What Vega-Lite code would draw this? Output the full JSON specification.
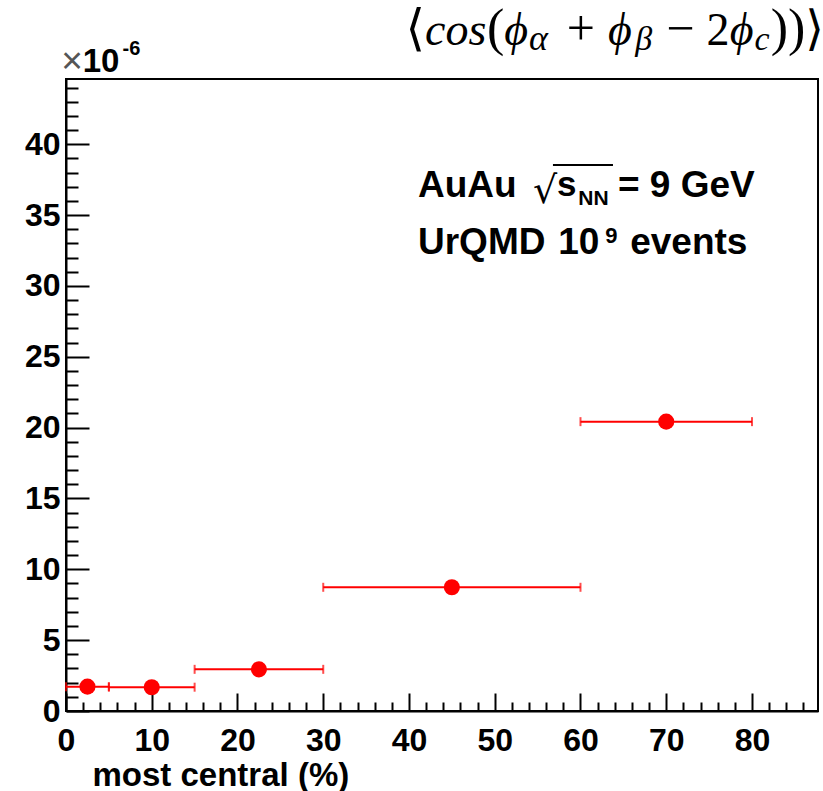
{
  "$schema": "https://vega.github.io/schema/vega-lite/v6.json",
  "width": 752,
  "height": 632,
  "autosize": "none",
  "padding": {"left": 66, "top": 79, "right": 5, "bottom": 80},
  "background": "white",
  "config": {
    "view": {"stroke": "black", "strokeWidth": 2},
    "axis": {"grid": false},
    "text": {"align": "left", "baseline": "alphabetic", "color": "black"}
  },
  "data": {
    "values": [
      {"centrality": 2.5, "lo": 0, "hi": 5, "value": 1.72},
      {"centrality": 10, "lo": 5, "hi": 15, "value": 1.68},
      {"centrality": 22.5, "lo": 15, "hi": 30, "value": 2.94},
      {"centrality": 45, "lo": 30, "hi": 60, "value": 8.73},
      {"centrality": 70, "lo": 60, "hi": 80, "value": 20.42}
    ]
  },
  "layer": [
    {
      "mark": {"type": "rule", "color": "#ff0000", "strokeWidth": 2},
      "encoding": {
        "x": {
          "field": "lo", "type": "quantitative",
          "scale": {"domain": [0, 87.7], "nice": false, "zero": false},
          "axis": {
            "values": [0,2,4,6,8,10,12,14,16,18,20,22,24,26,28,30,32,34,36,38,40,42,44,46,48,50,52,54,56,58,60,62,64,66,68,70,72,74,76,78,80,82,84,86],
            "tickCount": 200,
            "format": "d",
            "title": "most central (%)",
            "titleFont": "Liberation Sans", "titleFontSize": 33, "titleFontWeight": "bold", "titleColor": "black",
            "titleAnchor": "start", "titleAlign": "left", "titleX": 26, "titleY": 74, "titleBaseline": "alphabetic",
            "labelExpr": "datum.value % 10 === 0 ? datum.label : ''",
            "labelFont": "Liberation Sans", "labelFontSize": 32, "labelFontWeight": "bold", "labelColor": "black",
            "labelPadding": 32, "labelFlush": false, "labelOverlap": false, "labelBound": false,
            "tickSize": {"condition": {"test": "datum.value % 10 === 0", "value": -18}, "value": -9},
            "tickColor": "black", "tickWidth": 2,
            "domainColor": "black", "domainWidth": 2
          }
        },
        "x2": {"field": "hi"},
        "y": {
          "field": "value", "type": "quantitative",
          "scale": {"domain": [0, 44.6], "nice": false, "zero": false},
          "axis": {
            "values": [0,1,2,3,4,5,6,7,8,9,10,11,12,13,14,15,16,17,18,19,20,21,22,23,24,25,26,27,28,29,30,31,32,33,34,35,36,37,38,39,40,41,42,43,44],
            "tickCount": 200,
            "format": "d",
            "title": null,
            "labelExpr": "datum.value % 5 === 0 ? datum.label : ''",
            "labelFont": "Liberation Sans", "labelFontSize": 32, "labelFontWeight": "bold", "labelColor": "black",
            "labelPadding": 29, "labelOverlap": false, "labelBound": false, "labelFlush": false,
            "tickSize": {"condition": {"test": "datum.value % 5 === 0", "value": -23}, "value": -12},
            "tickColor": "black", "tickWidth": 2,
            "domainColor": "black", "domainWidth": 2
          }
        }
      }
    },
    {
      "mark": {"type": "tick", "orient": "vertical", "color": "#ff0000", "size": 9, "thickness": 2},
      "encoding": {
        "x": {"field": "lo", "type": "quantitative"},
        "y": {"field": "value", "type": "quantitative"}
      }
    },
    {
      "mark": {"type": "tick", "orient": "vertical", "color": "#ff0000", "size": 9, "thickness": 2},
      "encoding": {
        "x": {"field": "hi", "type": "quantitative"},
        "y": {"field": "value", "type": "quantitative"}
      }
    },
    {
      "mark": {"type": "point", "filled": true, "shape": "circle", "color": "#ff0000", "size": 260, "opacity": 1},
      "encoding": {
        "x": {"field": "centrality", "type": "quantitative"},
        "y": {"field": "value", "type": "quantitative"}
      }
    },
    {
      "data": {"values": [{}]},
      "mark": {"type": "text", "text": "⟨", "font": "DejaVu Serif", "fontSize": 50},
      "encoding": {"x": {"datum": 39.6, "type": "quantitative"}, "y": {"datum": 47.0, "type": "quantitative"}}
    },
    {
      "data": {"values": [{}]},
      "mark": {"type": "text", "text": "cos", "font": "Liberation Serif", "fontStyle": "italic", "fontSize": 46},
      "encoding": {"x": {"datum": 41.87, "type": "quantitative"}, "y": {"datum": 47.0, "type": "quantitative"}}
    },
    {
      "data": {"values": [{}]},
      "mark": {"type": "text", "text": "(", "font": "Liberation Serif", "fontSize": 52},
      "encoding": {"x": {"datum": 49.1, "type": "quantitative"}, "y": {"datum": 47.0, "type": "quantitative"}}
    },
    {
      "data": {"values": [{}]},
      "mark": {"type": "text", "text": "ϕ", "font": "Liberation Serif", "fontStyle": "italic", "fontSize": 46},
      "encoding": {"x": {"datum": 51.1, "type": "quantitative"}, "y": {"datum": 47.0, "type": "quantitative"}}
    },
    {
      "data": {"values": [{}]},
      "mark": {"type": "text", "text": "α", "font": "Liberation Serif", "fontStyle": "italic", "fontSize": 36},
      "encoding": {"x": {"datum": 54.0, "type": "quantitative"}, "y": {"datum": 46.65, "type": "quantitative"}}
    },
    {
      "data": {"values": [{}]},
      "mark": {"type": "text", "text": "+", "font": "Liberation Serif", "fontSize": 50},
      "encoding": {"x": {"datum": 58.4, "type": "quantitative"}, "y": {"datum": 47.0, "type": "quantitative"}}
    },
    {
      "data": {"values": [{}]},
      "mark": {"type": "text", "text": "ϕ", "font": "Liberation Serif", "fontStyle": "italic", "fontSize": 46},
      "encoding": {"x": {"datum": 63.21, "type": "quantitative"}, "y": {"datum": 47.0, "type": "quantitative"}}
    },
    {
      "data": {"values": [{}]},
      "mark": {"type": "text", "text": "β", "font": "Liberation Serif", "fontStyle": "italic", "fontSize": 34},
      "encoding": {"x": {"datum": 66.4, "type": "quantitative"}, "y": {"datum": 46.65, "type": "quantitative"}}
    },
    {
      "data": {"values": [{}]},
      "mark": {"type": "text", "text": "−", "font": "Liberation Serif", "fontSize": 50},
      "encoding": {"x": {"datum": 70.0, "type": "quantitative"}, "y": {"datum": 47.0, "type": "quantitative"}}
    },
    {
      "data": {"values": [{}]},
      "mark": {"type": "text", "text": "2", "font": "Liberation Serif", "fontSize": 46},
      "encoding": {"x": {"datum": 74.7, "type": "quantitative"}, "y": {"datum": 47.0, "type": "quantitative"}}
    },
    {
      "data": {"values": [{}]},
      "mark": {"type": "text", "text": "ϕ", "font": "Liberation Serif", "fontStyle": "italic", "fontSize": 46},
      "encoding": {"x": {"datum": 77.4, "type": "quantitative"}, "y": {"datum": 47.0, "type": "quantitative"}}
    },
    {
      "data": {"values": [{}]},
      "mark": {"type": "text", "text": "c", "font": "Liberation Serif", "fontStyle": "italic", "fontSize": 34},
      "encoding": {"x": {"datum": 80.3, "type": "quantitative"}, "y": {"datum": 46.65, "type": "quantitative"}}
    },
    {
      "data": {"values": [{}]},
      "mark": {"type": "text", "text": ")", "font": "Liberation Serif", "fontSize": 52},
      "encoding": {"x": {"datum": 82.2, "type": "quantitative"}, "y": {"datum": 47.0, "type": "quantitative"}}
    },
    {
      "data": {"values": [{}]},
      "mark": {"type": "text", "text": ")", "font": "Liberation Serif", "fontSize": 52},
      "encoding": {"x": {"datum": 84.2, "type": "quantitative"}, "y": {"datum": 47.0, "type": "quantitative"}}
    },
    {
      "data": {"values": [{}]},
      "mark": {"type": "text", "text": "⟩", "font": "DejaVu Serif", "fontSize": 48},
      "encoding": {"x": {"datum": 86.2, "type": "quantitative"}, "y": {"datum": 47.0, "type": "quantitative"}}
    },
    {
      "data": {"values": [{}]},
      "mark": {"type": "text", "text": "×", "font": "Liberation Sans", "fontSize": 37, "color": "#555555"},
      "encoding": {"x": {"datum": -0.55, "type": "quantitative"}, "y": {"datum": 45.05, "type": "quantitative"}}
    },
    {
      "data": {"values": [{}]},
      "mark": {"type": "text", "text": "10", "font": "Liberation Sans", "fontSize": 33, "fontWeight": "bold"},
      "encoding": {"x": {"datum": 1.95, "type": "quantitative"}, "y": {"datum": 45.1, "type": "quantitative"}}
    },
    {
      "data": {"values": [{}]},
      "mark": {"type": "text", "text": "-6", "font": "Liberation Sans", "fontSize": 20, "fontWeight": "bold"},
      "encoding": {"x": {"datum": 6.6, "type": "quantitative"}, "y": {"datum": 46.3, "type": "quantitative"}}
    },
    {
      "data": {"values": [{}]},
      "mark": {"type": "text", "text": "AuAu", "font": "Liberation Sans", "fontSize": 37, "fontWeight": "bold"},
      "encoding": {"x": {"datum": 41.05, "type": "quantitative"}, "y": {"datum": 36.27, "type": "quantitative"}}
    },
    {
      "data": {"values": [{}]},
      "mark": {"type": "text", "text": "√", "font": "DejaVu Sans", "fontSize": 38},
      "encoding": {"x": {"datum": 54.46, "type": "quantitative"}, "y": {"datum": 35.85, "type": "quantitative"}}
    },
    {
      "data": {"values": [{}]},
      "mark": {"type": "rule", "color": "black", "strokeWidth": 2},
      "encoding": {"x": {"datum": 56.79, "type": "quantitative"}, "x2": {"datum": 63.79}, "y": {"datum": 38.53, "type": "quantitative"}}
    },
    {
      "data": {"values": [{}]},
      "mark": {"type": "text", "text": "s", "font": "Liberation Sans", "fontSize": 35, "fontWeight": "bold"},
      "encoding": {"x": {"datum": 57.25, "type": "quantitative"}, "y": {"datum": 36.34, "type": "quantitative"}}
    },
    {
      "data": {"values": [{}]},
      "mark": {"type": "text", "text": "NN", "font": "Liberation Sans", "fontSize": 21, "fontWeight": "bold"},
      "encoding": {"x": {"datum": 59.75, "type": "quantitative"}, "y": {"datum": 35.71, "type": "quantitative"}}
    },
    {
      "data": {"values": [{}]},
      "mark": {"type": "text", "text": "= 9 GeV", "font": "Liberation Sans", "fontSize": 37, "fontWeight": "bold"},
      "encoding": {"x": {"datum": 64.37, "type": "quantitative"}, "y": {"datum": 36.27, "type": "quantitative"}}
    },
    {
      "data": {"values": [{}]},
      "mark": {"type": "text", "text": "UrQMD", "font": "Liberation Sans", "fontSize": 37, "fontWeight": "bold"},
      "encoding": {"x": {"datum": 41.05, "type": "quantitative"}, "y": {"datum": 32.25, "type": "quantitative"}}
    },
    {
      "data": {"values": [{}]},
      "mark": {"type": "text", "text": "10", "font": "Liberation Sans", "fontSize": 37, "fontWeight": "bold"},
      "encoding": {"x": {"datum": 57.4, "type": "quantitative"}, "y": {"datum": 32.25, "type": "quantitative"}}
    },
    {
      "data": {"values": [{}]},
      "mark": {"type": "text", "text": "9", "font": "Liberation Sans", "fontSize": 22, "fontWeight": "bold"},
      "encoding": {"x": {"datum": 62.9, "type": "quantitative"}, "y": {"datum": 33.0, "type": "quantitative"}}
    },
    {
      "data": {"values": [{}]},
      "mark": {"type": "text", "text": "events", "font": "Liberation Sans", "fontSize": 37, "fontWeight": "bold"},
      "encoding": {"x": {"datum": 65.8, "type": "quantitative"}, "y": {"datum": 32.25, "type": "quantitative"}}
    }
  ]
}
